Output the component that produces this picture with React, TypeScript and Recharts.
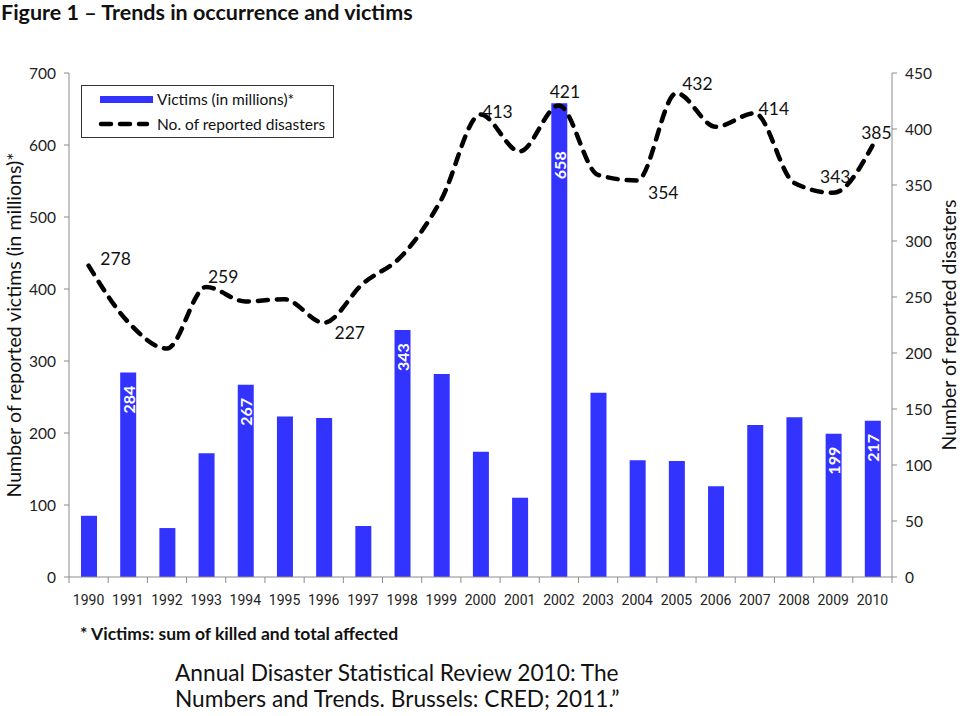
import React from 'react';
import { ComposedChart, Bar, Line, XAxis, YAxis, LabelList, Legend } from 'recharts';

const years = [
  '1990', '1991', '1992', '1993', '1994', '1995', '1996', '1997', '1998', '1999', '2000',
  '2001', '2002', '2003', '2004', '2005', '2006', '2007', '2008', '2009', '2010',
];
// victims, millions
const victims = [85, 284, 68, 172, 267, 223, 221, 71, 343, 282, 174, 110, 658, 256, 162, 161, 126, 211, 222, 199, 217];
// number of reported disasters
const disasters = [278, 228, 204, 259, 246, 248, 227, 262, 287, 337, 413, 380, 421, 359, 354, 432, 402, 414, 352, 343, 385];

const victimTicks = [0, 100, 200, 300, 400, 500, 600, 700];
const disasterTicks = [0, 50, 100, 150, 200, 250, 300, 350, 400, 450];

const labeledVictimYears = ['1991', '1994', '1998', '2002', '2009', '2010'];
const labeledDisasterYears = ['1990', '1993', '1996', '2000', '2002', '2004', '2005', '2007', '2009', '2010'];

const data = years.map((year, i) => ({ year, victims: victims[i], disasters: disasters[i] }));

// where each line label sits relative to its point (px)
const disasterLabelShift: Record<string, [number, number]> = {
  '1990': [27, -7],
  '1993': [17, -10],
  '1996': [26, 10],
  '2000': [17, -3],
  '2002': [6, -14],
  '2004': [26, 12],
  '2005': [21, -10],
  '2007': [19, -5],
  '2009': [2, -16],
  '2010': [4, -13],
};

const BLUE = '#3333ff';
const FONT = 'Lato, "Open Sans", sans-serif';
const AXIS_GREY = '#8c8c8c';

const renderDisasterLabel = (props: any) => {
  const vb = props.viewBox ?? props;
  const year = years[props.index];
  const shift = disasterLabelShift[year];
  if (!shift || !labeledDisasterYears.includes(year)) return null;
  return (
    <text
      x={vb.x + shift[0]}
      y={vb.y + shift[1]}
      textAnchor="middle"
      dominantBaseline="central"
      fontSize={17.5}
      fontFamily={FONT}
      fill="#111"
    >
      {props.value}
    </text>
  );
};

const renderVictimLabel = (props: any) => {
  const vb = props.viewBox ?? props;
  const year = years[props.index];
  if (!labeledVictimYears.includes(year)) return null;
  const depth = year === '2002' ? 62 : 27;
  const cx = vb.x + vb.width / 2;
  const cy = vb.y + depth;
  return (
    <text
      x={cx}
      y={cy}
      transform={`rotate(-90 ${cx} ${cy})`}
      textAnchor="middle"
      dominantBaseline="central"
      fontSize={16}
      fontWeight="bold"
      fontFamily={FONT}
      fill="#fff"
    >
      {props.value}
    </text>
  );
};

const YearTick = (props: any) => {
  const { x, y, payload, index } = props;
  const half = payload.offset || 19.6;
  return (
    <g>
      <line x1={x - half} y1={y} x2={x - half} y2={y + 6} stroke={AXIS_GREY} />
      {index === years.length - 1 && (
        <line x1={x + half} y1={y} x2={x + half} y2={y + 6} stroke={AXIS_GREY} />
      )}
      <text x={x} y={y + 28} textAnchor="middle" fontSize={14} fontFamily="Roboto, sans-serif" fill="#222">
        {payload.value}
      </text>
    </g>
  );
};

const LegendBox = () => (
  <div
    style={{
      position: 'relative',
      width: 253,
      height: 53,
      border: '1px solid #333',
      boxSizing: 'border-box',
      background: '#fff',
      fontFamily: FONT,
      fontSize: 15.5,
      color: '#111',
    }}
  >
    <svg width={60} height={50} style={{ position: 'absolute', left: 14, top: 0 }}>
      <rect x={4} y={10} width={53} height={7} fill={BLUE} />
      <line x1={5} y1={38} x2={51} y2={38} stroke="#000" strokeWidth={4.5} strokeDasharray="10 9" strokeLinecap="round" />
    </svg>
    <div style={{ position: 'absolute', left: 75, top: 3, lineHeight: '20px' }}>Victims (in millions)*</div>
    <div style={{ position: 'absolute', left: 75, top: 28, lineHeight: '20px' }}>No. of reported disasters</div>
  </div>
);

export default function App() {
  return (
    <div style={{ position: 'absolute', left: 0, top: 0, width: 960, height: 716, background: '#fff', fontFamily: FONT }}>
      <div style={{ position: 'absolute', left: 1, top: -1, fontSize: 21.5, fontWeight: 'bold', color: '#111', lineHeight: '26px' }}>
        Figure 1 – Trends in occurrence and victims
      </div>

      <div style={{ position: 'absolute', left: 0, top: 0 }}>
        <ComposedChart
          width={960}
          height={640}
          data={data}
          margin={{ top: 73, right: 0, left: 0, bottom: 33 }}
          barSize={16}
        >
          <XAxis
            dataKey="year"
            xAxisId="x"
            height={30}
            tickSize={0}
            tickMargin={0}
            interval={0}
            tick={<YearTick />}
            axisLine={{ stroke: AXIS_GREY }}
            tickLine={false}
          />
          <YAxis
            yAxisId="victims"
            orientation="left"
            width={69}
            domain={[0, 700]}
            ticks={victimTicks}
            interval={0}
            tickSize={5}
            tickMargin={8}
            tick={{ fontSize: 15.5, fill: '#222', fontFamily: FONT }}
            axisLine={{ stroke: AXIS_GREY }}
            tickLine={{ stroke: AXIS_GREY }}
            label={{
              value: 'Number of reported victims (in millions)*',
              angle: -90,
              position: 'insideLeft',
              offset: 14,
              style: { textAnchor: 'middle', fontSize: 19.5, fill: '#111', fontFamily: FONT },
            }}
          />
          <YAxis
            yAxisId="disasters"
            orientation="right"
            width={68}
            domain={[0, 450]}
            ticks={disasterTicks}
            interval={0}
            tickSize={5}
            tickMargin={8}
            tick={{ fontSize: 15.5, fill: '#222', fontFamily: FONT }}
            axisLine={{ stroke: AXIS_GREY }}
            tickLine={{ stroke: AXIS_GREY }}
            label={{
              value: 'Number of reported disasters',
              angle: -90,
              position: 'insideRight',
              offset: 11,
              style: { textAnchor: 'middle', fontSize: 19.5, fill: '#111', fontFamily: FONT },
            }}
          />
          <Legend
            layout="horizontal"
            verticalAlign="middle"
            align="center"
            wrapperStyle={{ left: 81, top: 85, width: 'auto' }}
            content={() => <LegendBox />}
          />
          <Bar dataKey="victims" xAxisId="x" yAxisId="victims" fill={BLUE} isAnimationActive={false}>
            <LabelList dataKey="victims" content={renderVictimLabel} />
          </Bar>
          <Line
            dataKey="disasters"
            xAxisId="x"
            yAxisId="disasters"
            type="monotone"
            stroke="#000"
            strokeWidth={4.5}
            strokeDasharray="10 9"
            strokeLinecap="round"
            dot={false}
            activeDot={false}
            isAnimationActive={false}
          >
            <LabelList dataKey="disasters" content={renderDisasterLabel} />
          </Line>
        </ComposedChart>
      </div>

      <div style={{ position: 'absolute', left: 80, top: 623, fontSize: 17.5, fontWeight: 'bold', color: '#111', lineHeight: '22px' }}>
        * Victims: sum of killed and total affected
      </div>
      <div style={{ position: 'absolute', left: 175, top: 660, fontSize: 22.7, color: '#111', lineHeight: '26px' }}>
        Annual Disaster Statistical Review 2010: The
        <br />
        Numbers and Trends. Brussels: CRED; 2011.”
      </div>
    </div>
  );
}
